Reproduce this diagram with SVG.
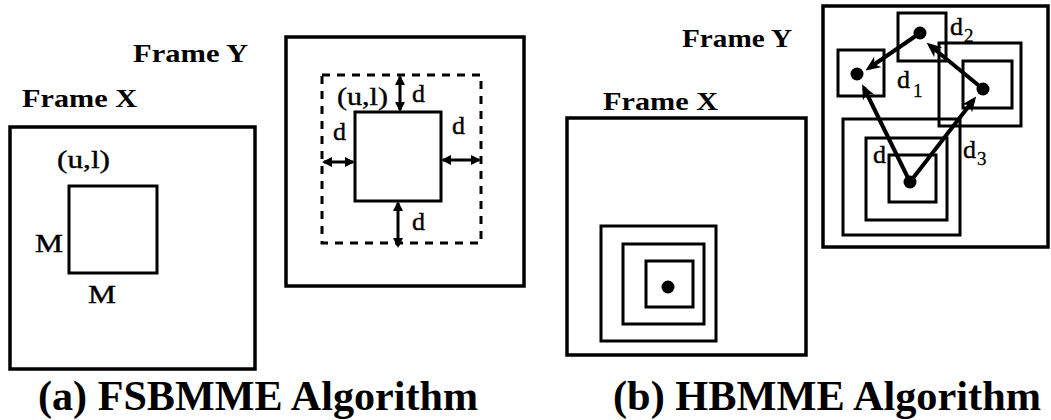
<svg xmlns="http://www.w3.org/2000/svg" width="1051" height="420" viewBox="0 0 1051 420">
<style>
  .box{fill:none;stroke:#000;stroke-width:3.5}
  .sq{fill:none;stroke:#000;stroke-width:3}
  .dash{fill:none;stroke:#000;stroke-width:3;stroke-dasharray:8 7}
  .dbl{stroke:#000;stroke-width:3;fill:none;marker-start:url(#tri);marker-end:url(#tri)}
  .arr{stroke:#000;stroke-width:4;fill:none;marker-end:url(#stealth)}
  .lbl{font-family:'Liberation Serif','DejaVu Serif',serif;font-weight:700;font-size:25px;fill:#000}
  .t{font-family:'Liberation Serif','DejaVu Serif',serif;font-size:26px;fill:#000;stroke:#000;stroke-width:0.4}
  .sub{font-family:'Liberation Serif','DejaVu Serif',serif;font-size:19px;fill:#000;stroke:#000;stroke-width:0.3}
  .title{font-family:'Liberation Serif','DejaVu Serif',serif;font-weight:700;font-size:42px;fill:#000}
</style>
<defs>
  <marker id="tri" viewBox="0 0 10 10" refX="8" refY="5" markerWidth="10" markerHeight="10" markerUnits="userSpaceOnUse" orient="auto-start-reverse">
    <path d="M0,0 L10,5 L0,10 z" fill="#000"/>
  </marker>
  <marker id="stealth" viewBox="0 0 14 12" refX="10" refY="6" markerWidth="15" markerHeight="13" markerUnits="userSpaceOnUse" orient="auto">
    <path d="M0,0 L14,6 L0,12 L4,6 z" fill="#000"/>
  </marker>
</defs>

<!-- (a) FSBMME -->
<g id="a-frameX">
  <rect class="box" x="10" y="127" width="245" height="242"/>
  <text class="lbl" x="22" y="107" textLength="115" lengthAdjust="spacingAndGlyphs">Frame X</text>
</g>
<g id="a-block">
  <rect class="sq" x="69" y="186" width="88" height="87"/>
  <text class="t" x="57" y="168" textLength="53" lengthAdjust="spacingAndGlyphs">(u,l)</text>
  <text class="t" x="35" y="252" textLength="28" lengthAdjust="spacingAndGlyphs">M</text>
  <text class="t" x="88" y="303" textLength="28" lengthAdjust="spacingAndGlyphs">M</text>
</g>
<g id="a-frameY">
  <rect class="box" x="286" y="37" width="238" height="249"/>
  <text class="lbl" x="133" y="62" textLength="115" lengthAdjust="spacingAndGlyphs">Frame Y</text>
</g>
<g id="a-search">
  <rect class="dash" x="322" y="75" width="159" height="168"/>
  <rect class="sq" x="355" y="112" width="86" height="89"/>
  <text class="t" x="337" y="105" textLength="51" lengthAdjust="spacingAndGlyphs">(u,l)</text>
  <text class="t" x="412" y="102">d</text>
  <text class="t" x="333" y="140">d</text>
  <text class="t" x="452" y="134">d</text>
  <text class="t" x="412" y="230">d</text>
</g>

<!-- (b) HBMME -->
<g id="b-frameX">
  <rect class="box" x="567" y="118" width="239" height="237"/>
  <text class="lbl" x="603" y="110" textLength="115" lengthAdjust="spacingAndGlyphs">Frame X</text>
  <rect class="sq" x="601" y="226" width="115" height="115"/>
  <rect class="sq" x="623" y="244" width="81" height="80"/>
  <rect class="sq" x="646" y="261" width="47" height="46"/>
  <circle cx="668" cy="287" r="6.5" fill="#000"/>
</g>
<g id="b-frameY">
  <rect class="box" x="823" y="6" width="225" height="241"/>
  <text class="lbl" x="682" y="47" textLength="110" lengthAdjust="spacingAndGlyphs">Frame Y</text>
</g>
<g id="b-steps">
  <rect class="sq" x="898" y="13" width="48" height="48"/>
  <rect class="sq" x="838" y="50" width="46" height="46"/>
  <rect class="sq" x="939" y="43" width="82" height="83"/>
  <rect class="sq" x="963" y="61" width="49" height="47"/>
  <rect class="sq" x="843" y="119" width="117" height="116"/>
  <rect class="sq" x="866" y="138" width="81" height="82"/>
  <rect class="sq" x="889" y="155" width="47" height="47"/>
  <circle cx="910" cy="182" r="6.5" fill="#000"/>
  <circle cx="920" cy="33" r="6.5" fill="#000"/>
  <circle cx="857" cy="74" r="6.5" fill="#000"/>
  <circle cx="983" cy="89" r="6.5" fill="#000"/>
  <text class="t" x="950" y="35">d</text><text class="sub" x="964" y="42">2</text>
  <text class="t" x="897" y="88">d</text><text class="sub" x="913" y="97">1</text>
  <text class="t" x="963" y="158">d</text><text class="sub" x="977" y="165">3</text>
  <text class="t" x="873" y="163">d</text>
</g>

<g id="connectors">
  <line class="dbl" x1="400" y1="77" x2="400" y2="110"/>
  <line class="dbl" x1="398" y1="203" x2="398" y2="246"/>
  <line class="dbl" x1="324" y1="162" x2="353" y2="162"/>
  <line class="dbl" x1="443" y1="160" x2="479" y2="160"/>
  <line class="arr" x1="910" y1="182" x2="864" y2="88"/>
  <line class="arr" x1="910" y1="182" x2="973.5" y2="100"/>
  <line class="arr" x1="983" y1="89" x2="930" y2="45.5"/>
  <line class="arr" x1="920" y1="33" x2="869" y2="68"/>
</g>

<g id="captions">
  <text class="title" x="38" y="410" textLength="440" lengthAdjust="spacingAndGlyphs">(a) FSBMME Algorithm</text>
  <text class="title" x="613" y="410" textLength="428" lengthAdjust="spacingAndGlyphs">(b) HBMME Algorithm</text>
</g>
</svg>
